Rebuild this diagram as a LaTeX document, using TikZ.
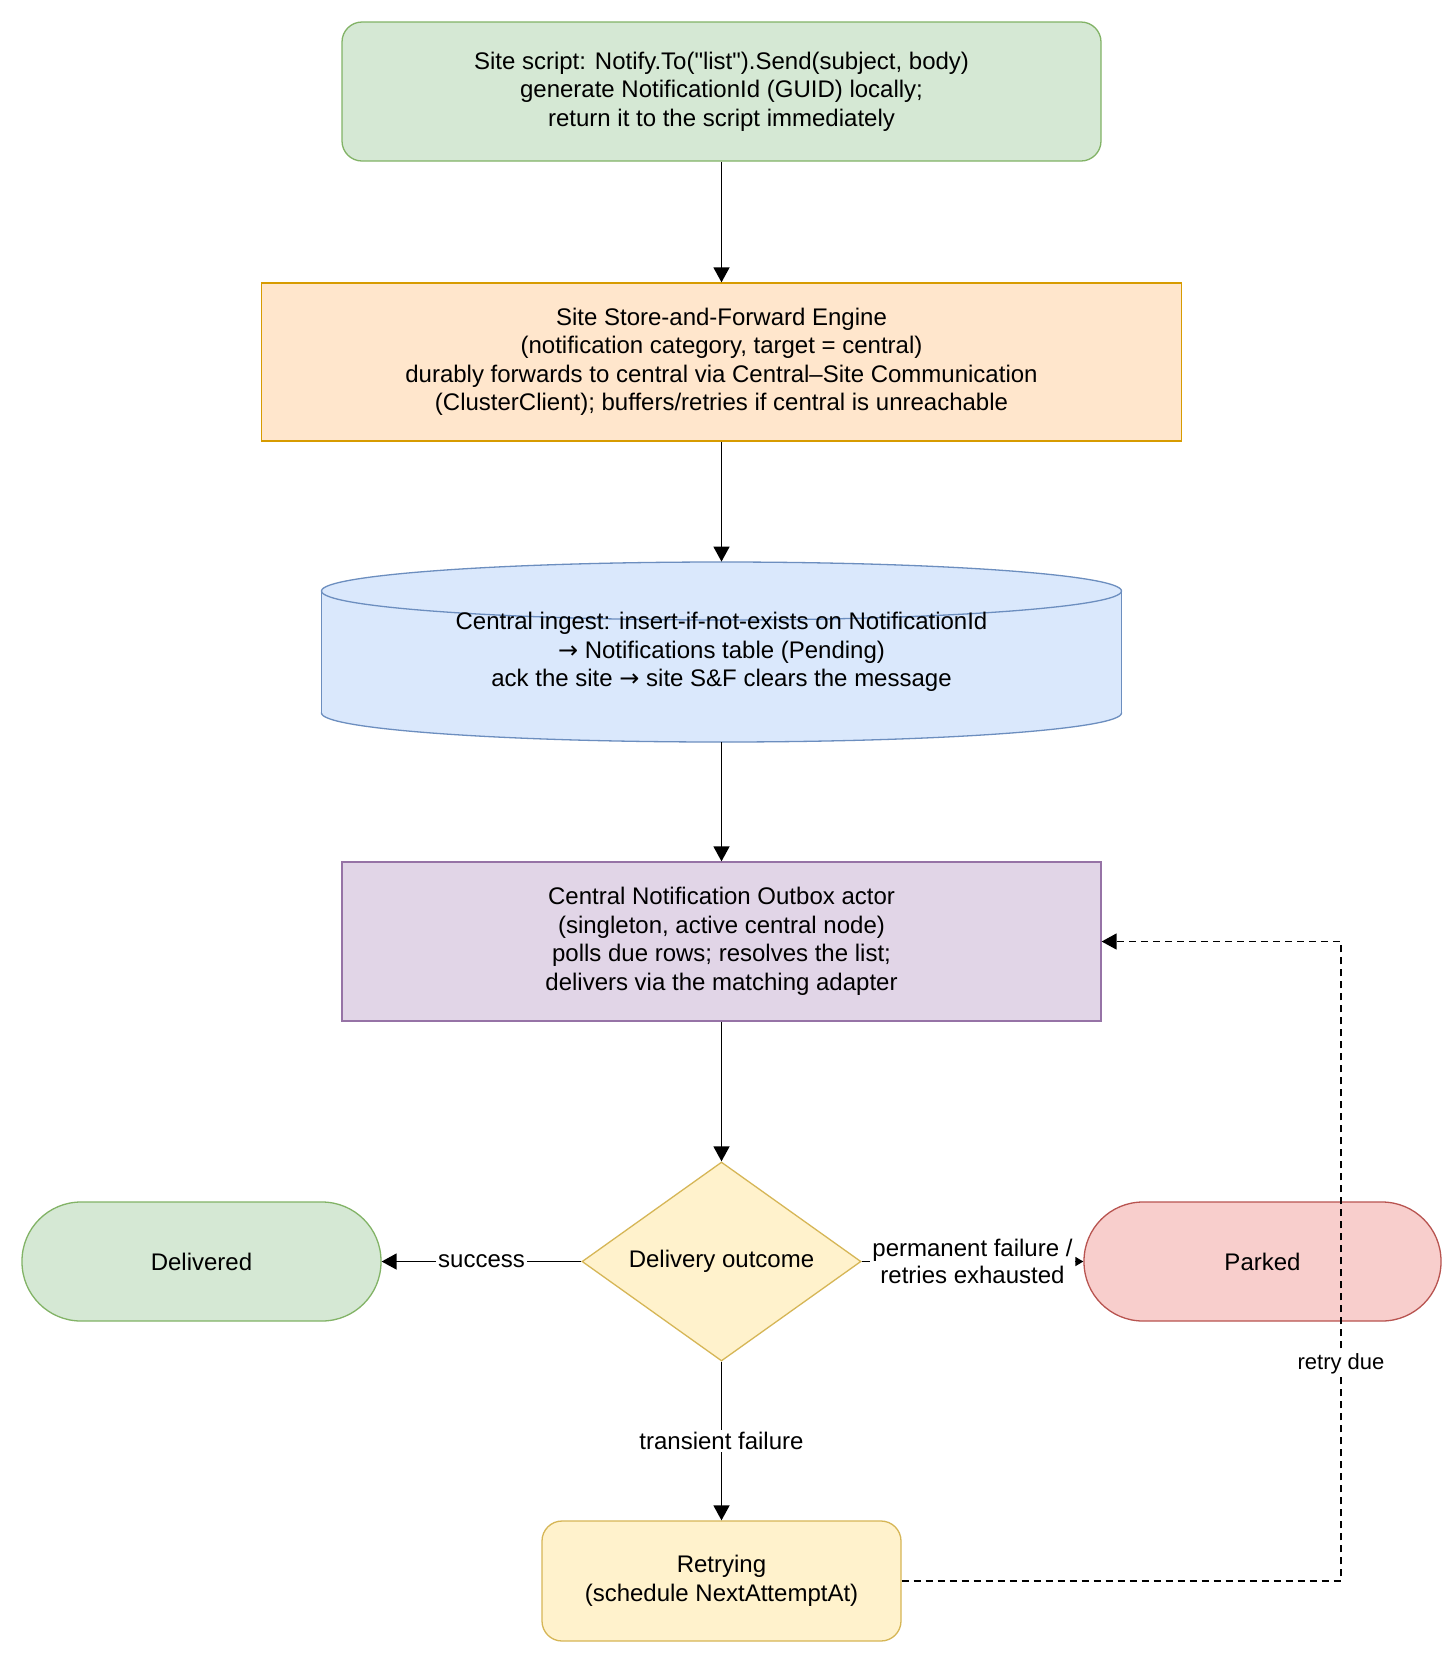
\documentclass[tikz,border=0pt]{standalone}
\usepackage{fontspec}
\setmainfont{Liberation Sans}
\newfontfamily\lsans{Liberation Sans}
\newfontfamily\arrfont{DejaVu Sans}
\newcommand{\rarr}{{\arrfont →}}
\usetikzlibrary{shapes.geometric,arrows.meta}
\definecolor{gfill}{HTML}{D5E8D4}\definecolor{gdraw}{HTML}{82B366}
\definecolor{ofill}{HTML}{FFE6CC}\definecolor{odraw}{HTML}{D79B00}
\definecolor{bfill}{HTML}{DAE8FC}\definecolor{bdraw}{HTML}{6C8EBF}
\definecolor{pfill}{HTML}{E1D5E7}\definecolor{pdraw}{HTML}{9673A6}
\definecolor{yfill}{HTML}{FFF2CC}\definecolor{ydraw}{HTML}{D6B656}
\definecolor{rfill}{HTML}{F8CECC}\definecolor{rdraw}{HTML}{B85450}
\begin{document}
\begin{tikzpicture}[x=0.5pt,y=-0.5pt,
  font=\lsans\fontsize{12}{14.25}\selectfont,
  box/.style={draw, line width=0.65pt, align=center, inner sep=0pt},
  arr/.style={-{Triangle[length=7.5pt,width=8pt]}, line width=0.8pt, black},
  lbl/.style={fill=white, inner sep=1pt, align=center, font=\lsans\fontsize{12}{13.7}\selectfont}]
\useasboundingbox (0,0) rectangle (1455,1655);
\fill[white] (0,0) rectangle (1455,1655);

\node[box, fill=gfill, draw=gdraw, rounded corners=10pt, minimum width=379.5pt, minimum height=69.5pt] (top) at (721.5,91.5)
  {Site script: Notify.To("list").Send(subject, body)\\generate NotificationId (GUID) locally;\\return it to the script immediately};

\node[box, fill=ofill, draw=odraw, minimum width=460pt, minimum height=79pt] (sf) at (721.5,362)
  {Site Store-and-Forward Engine\\(notification category, target = central)\\durably forwards to central via Central–Site Communication\\(ClusterClient); buffers/retries if central is unreachable};

% cylinder
\filldraw[fill=bfill, draw=bdraw, line width=0.65pt] (721.5,713) ellipse [x radius=400, y radius=29];
\fill[bfill] (321.5,591) rectangle (1121.5,713);
\draw[bdraw, line width=0.65pt] (321.5,591) -- (321.5,713) (1121.5,591) -- (1121.5,713);
\filldraw[fill=bfill, draw=bdraw, line width=0.65pt] (721.5,591) ellipse [x radius=400, y radius=29];
\node[align=center, inner sep=0pt, minimum width=400pt, minimum height=90pt] (cyl) at (721.5,652)
  {Central ingest: insert-if-not-exists on NotificationId\\\rarr{} Notifications table (Pending)\\ack the site \rarr{} site S\&F clears the message};

\node[box, fill=pfill, draw=pdraw, minimum width=379.5pt, minimum height=79.5pt] (outbox) at (721.5,941.5)
  {Central Notification Outbox actor\\(singleton, active central node)\\polls due rows; resolves the list;\\delivers via the matching adapter};

\node[box, diamond, aspect=1.4, fill=yfill, draw=ydraw, minimum width=139.5pt, minimum height=99.5pt] (dia) at (721.5,1261.5)
  {Delivery outcome};

\node[box, fill=gfill, draw=gdraw, rounded corners=29.5pt, minimum width=179.5pt, minimum height=59.5pt] (deliv) at (201.5,1261.5) {Delivered};
\node[box, fill=rfill, draw=rdraw, rounded corners=29.5pt, minimum width=178.5pt, minimum height=59.5pt] (parked) at (1262.5,1261.5) {Parked};
\node[box, fill=yfill, draw=ydraw, rounded corners=10pt, minimum width=179.5pt, minimum height=60pt] (retry) at (721.5,1581)
  {Retrying\\(schedule NextAttemptAt)};

\draw[arr] (top) -- (sf);
\draw[arr] (sf) -- (cyl);
\draw[arr] (cyl) -- (outbox);
\draw[arr] (outbox) -- (dia);
\draw[arr] (dia) -- node[lbl] {success} (deliv);
\draw[-{Triangle[length=4pt,width=4.5pt]}, line width=0.8pt] (dia) -- node[lbl] {permanent failure /\\retries exhausted} (parked);
\draw[arr] (dia) -- node[lbl] {transient failure} (retry);

\coordinate (c1) at (1341,1581);
\coordinate (c2) at (1341,941.5);
\draw[arr, dash pattern=on 3.5pt off 2.5pt] (retry.east) -- (c1) -- node[pos=0.34, lbl, font=\lsans\fontsize{11}{13}\selectfont] {retry due} (c2) -- (outbox.east);
\end{tikzpicture}
\end{document}
